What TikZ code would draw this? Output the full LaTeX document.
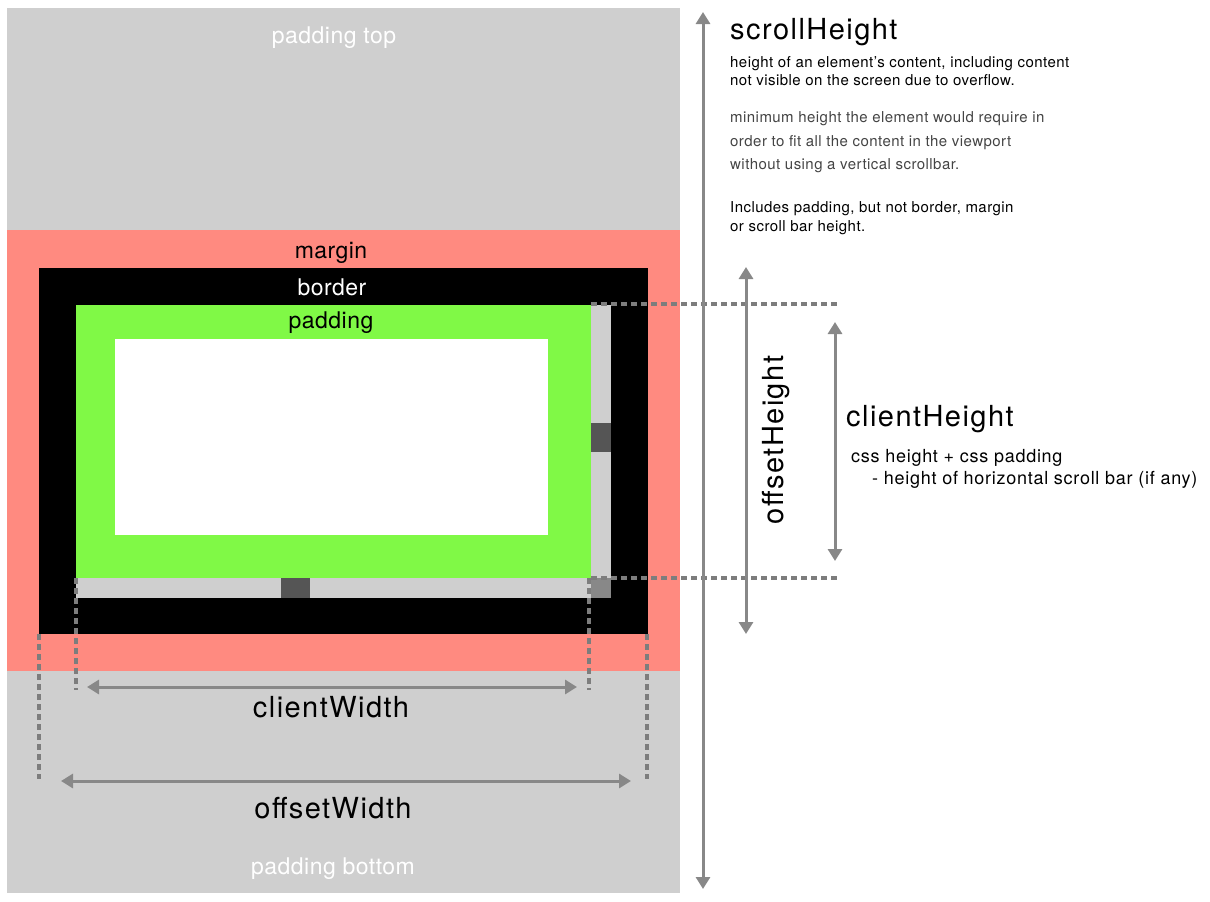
\documentclass[tikz,border=0pt]{standalone}
\usepackage{fontspec}
\setmainfont{TeX Gyre Heros}
\newfontfamily\titlefont[LetterSpace=5]{TeX Gyre Heros}
\newfontfamily\notefont[LetterSpace=3]{TeX Gyre Heros}
\newfontfamily\formulafont[LetterSpace=4]{TeX Gyre Heros}
\newfontfamily\boxfont[LetterSpace=2]{TeX Gyre Heros}
\usetikzlibrary{arrows.meta}

\definecolor{pagegray}{RGB}{207,207,207}
\definecolor{marginred}{RGB}{255,138,128}
\definecolor{padgreen}{RGB}{128,249,70}
\definecolor{thumbgray}{RGB}{85,85,85}
\definecolor{cornergray}{RGB}{136,136,136}
\definecolor{dimgray}{RGB}{136,136,136}
\definecolor{guidegray}{RGB}{125,125,125}
\definecolor{notegray}{RGB}{68,68,68}

\begin{document}
\begin{tikzpicture}[x=1pt,y=-1pt,
  dimarrow/.style={draw=dimgray,line width=3pt,
    {Triangle[length=12pt,width=14pt]}-{Triangle[length=12pt,width=14pt]}},
  guide/.style={draw=guidegray,line width=3.2pt,dash pattern=on 6pt off 4pt},
  bigtext/.style={inner sep=0pt,font=\titlefont\fontsize{29}{31}\selectfont},
  boxtext/.style={inner sep=0pt,font=\boxfont\fontsize{23}{25}\selectfont},
  note/.style={inner sep=0pt,anchor=base west,font=\notefont\fontsize{15}{17}\selectfont},
  formula/.style={inner sep=0pt,anchor=base west,font=\formulafont\fontsize{18}{20}\selectfont}]
\useasboundingbox (0,0) rectangle (1210,902);

% scrolled area, margin, border, padding and content box
\fill[pagegray] (7,8) rectangle (680,893);
\fill[marginred] (7,230) rectangle (680,671);
\fill[black] (39,268) rectangle (648,634);
\fill[pagegray] (76,305) rectangle (611,598);
\fill[padgreen] (76,305) rectangle (591,578);
\fill[white] (115,339) rectangle (548,535);
% scroll bar thumbs and corner
\fill[thumbgray] (591,423) rectangle (611,452);
\fill[thumbgray] (281,578) rectangle (310,598);
\fill[cornergray] (591,578) rectangle (611,598);

% box labels
\node[boxtext,text=white,anchor=base] (padtop) at (334,43) {padding top};
\node[boxtext,anchor=base] (marginlbl) at (331,258) {margin};
\node[boxtext,text=white,anchor=base] (borderlbl) at (332,295) {border};
\node[boxtext,anchor=base] (paddinglbl) at (331,328) {padding};
\node[boxtext,text=white,anchor=base] (padbot) at (333,874) {padding bottom};

% end points of the measures
\coordinate (sh1) at (703,12);
\coordinate (sh2) at (703,889);
\coordinate (oh1) at (746,267);
\coordinate (oh2) at (746,634);
\coordinate (ch1) at (835,322);
\coordinate (ch2) at (835,561);
\coordinate (cw1) at (87,687);
\coordinate (cw2) at (577,687);
\coordinate (ow1) at (61,781);
\coordinate (ow2) at (631,781);

% guide lines
\coordinate (gt1) at (591,304);
\coordinate (gt2) at (839,304);
\coordinate (gb1) at (591,578);
\coordinate (gb2) at (839,578);
\coordinate (gl1) at (76,578);
\coordinate (gl2) at (76,690);
\coordinate (gr1) at (589,578);
\coordinate (gr2) at (589,690);
\coordinate (go1) at (39,634);
\coordinate (go2) at (39,779);
\coordinate (go3) at (647,634);
\coordinate (go4) at (647,779);
\draw[guide] (gt1) -- (gt2);
\draw[guide] (gb1) -- (gb2);
\draw[guide] (gl1) -- (gl2);
\draw[guide] (gr1) -- (gr2);
\draw[guide] (go1) -- (go2);
\draw[guide] (go3) -- (go4);

% measure arrows
\draw[dimarrow] (sh1) -- (sh2);
\draw[dimarrow] (oh1) -- (oh2);
\draw[dimarrow] (ch1) -- (ch2);
\draw[dimarrow] (cw1) -- (cw2);
\draw[dimarrow] (ow1) -- (ow2);

% measure labels
\node[bigtext,anchor=base west] (shlbl) at (730,39) {scrollHeight};
\node[note] (sh-a) at (730,67) {height of an element’s content, including content};
\node[note] (sh-b) at (730,85) {not visible on the screen due to overflow.};
\node[note,text=notegray] (sh-c) at (730,122) {minimum height the element would require in};
\node[note,text=notegray] (sh-d) at (730,146) {order to fit all the content in the viewport};
\node[note,text=notegray] (sh-e) at (730,169) {without using a vertical scrollbar.};
\node[note] (sh-f) at (730,212) {Includes padding, but not border, margin};
\node[note] (sh-g) at (730,231) {or scroll bar height.};

\node[bigtext,rotate=90,anchor=center] (ohlbl) at (776,440) {offsetHeight};

\node[bigtext,anchor=base west] (chlbl) at (846,426) {clientHeight};
\node[formula] (ch-a) at (851,462) {css height + css padding};
\node[formula] (ch-b) at (872,484) {- height of horizontal scroll bar (if any)};

\node[bigtext,anchor=base] (cwlbl) at (331,717) {clientWidth};
\node[bigtext,anchor=base] (owlbl) at (333,818) {offsetWidth};
\end{tikzpicture}
\end{document}
